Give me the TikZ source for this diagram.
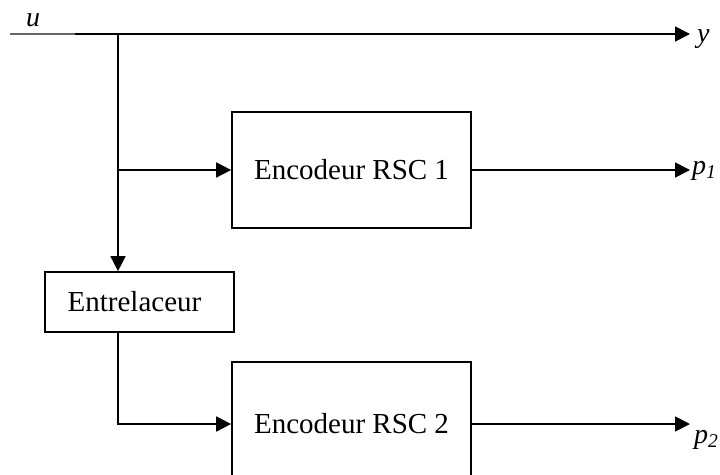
\documentclass[tikz,border=0pt]{standalone}
\usepackage{fontspec}
\setmainfont{Liberation Serif}
\usetikzlibrary{arrows.meta}
\begin{document}
\begin{tikzpicture}[x=1pt,y=-1pt,
  wire/.style={line width=1.7pt},
  arr/.style={wire,-{Triangle[length=15pt,width=15pt]}},
  blk/.style={draw,line width=1.7pt,fill=white,inner sep=0pt,
    font=\fontsize{29}{35}\selectfont},
  lbl/.style={inner sep=0pt,font=\fontsize{28}{33}\selectfont\itshape}]
\useasboundingbox (0,0) rectangle (720,474);
\clip (0,0) rectangle (720,474);

% blocks
\node[blk,minimum width=239pt,minimum height=116pt] (enc1) at (351.5,170) {Encodeur RSC 1};
\node[blk,minimum width=239pt,minimum height=124pt] (enc2) at (351.5,424) {Encodeur RSC 2};
\node[blk,minimum width=189pt,minimum height=60pt] (ent) at (139.5,302) {\hspace*{-10pt}Entrelaceur};

% input line and systematic output
\coordinate (in) at (10,34);
\coordinate (lead) at (75,34);
\coordinate (tap) at (118,34);
\coordinate (yout) at (690,34);
\coordinate (br1) at (118,170);
\coordinate (p1out) at (690,170);
\coordinate (p2out) at (690,424);

\draw[wire,gray!80!black] (in) -- (lead);
\draw[arr] (lead) -- (yout);

% branch to the first encoder and to the interleaver
\draw[arr] (tap) -- (tap |- ent.north);
\draw[arr] (br1) -- (enc1.west);
\draw[arr] (enc1.east) -- (p1out);

% interleaver to the second encoder
\draw[arr] (tap |- ent.south) -- (tap |- enc2.west) -- (enc2.west);
\draw[arr] (enc2.east) -- (p2out);

% signal labels
\node[lbl,anchor=base] (u) at (33,26) {u};
\node[lbl,anchor=base west] (y) at (697,42) {y};
\node[lbl,anchor=base west] (p1) at (692,174) {p\textsubscript{1}};
\node[lbl,anchor=base west] (p2) at (694,443) {p\textsubscript{2}};
\end{tikzpicture}
\end{document}
